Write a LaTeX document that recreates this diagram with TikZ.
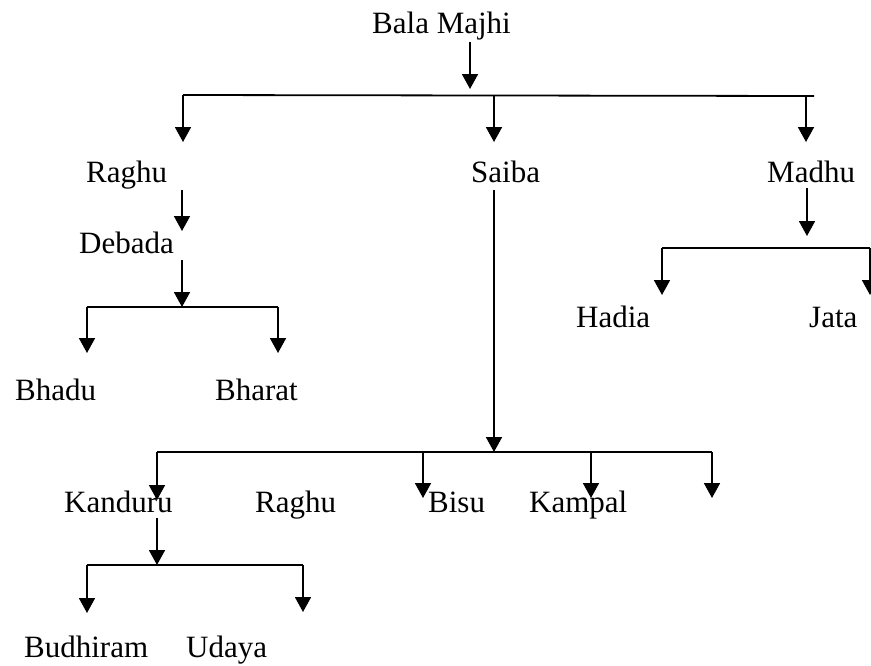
\documentclass[tikz,border=0pt]{standalone}
\usepackage{fontspec}
\setmainfont{Liberation Serif}
\usetikzlibrary{arrows.meta}
\tikzset{
  person/.style={inner sep=0pt, anchor=base west, font=\fontsize{31}{37}\selectfont},
  link/.style={line width=1.8pt, draw=black},
  arr/.style={link, -{Triangle[length=15pt,width=16pt]}}
}
\begin{document}
\begin{tikzpicture}[x=1pt,y=-1pt]
\useasboundingbox (0,0) rectangle (871,665);
% names
\node[person] (bala) at (372,33) {Bala Majhi};
\node[person] (raghu) at (86,182) {Raghu};
\node[person] (saiba) at (471,182) {Saiba};
\node[person] (madhu) at (767,182) {Madhu};
\node[person] (debada) at (79,253) {Debada};
\node[person] (bhadu) at (15,400) {Bhadu};
\node[person] (bharat) at (215,400) {Bharat};
\node[person] (hadia) at (576,327) {Hadia};
\node[person] (jata) at (809,327) {Jata};
\node[person] (kanduru) at (64,512) {Kanduru};
\node[person] (raghub) at (255,512) {Raghu};
\node[person] (bisu) at (428,512) {Bisu};
\node[person] (kampal) at (529,512) {Kampal};
\node[person] (budhiram) at (24,657) {Budhiram};
\node[person] (udaya) at (186,657) {Udaya};
% coordinates
\coordinate (b0) at (470,42);  \coordinate (b1) at (470,89);
\coordinate (tL) at (183,95);  \coordinate (tR) at (814,96);
\coordinate (tM) at (494,95);  \coordinate (tr) at (806,96);
\coordinate (aL) at (183,142); \coordinate (aM) at (494,142); \coordinate (aR) at (806,142);
\coordinate (r0) at (182,190); \coordinate (r1) at (182,231);
\coordinate (d0) at (182,260); \coordinate (d1) at (182,307);
\coordinate (dL) at (87,307);  \coordinate (dR) at (278,307);
\coordinate (dLa) at (87,353); \coordinate (dRa) at (278,353);
\coordinate (m0) at (807,188); \coordinate (m1) at (807,236);
\coordinate (mL) at (662,248); \coordinate (mR) at (870,248);
\coordinate (mLa) at (662,295); \coordinate (mRa) at (870,295);
\coordinate (s0) at (494,190); \coordinate (s1) at (494,452);
\coordinate (sL) at (157,452); \coordinate (sR) at (712,452);
\coordinate (s2) at (423,452); \coordinate (s3) at (591,452);
\coordinate (sLa) at (157,500); \coordinate (s2a) at (423,498);
\coordinate (s3a) at (591,498); \coordinate (sRa) at (712,498);
\coordinate (k0) at (157,518); \coordinate (k1) at (157,565);
\coordinate (kL) at (87,565);  \coordinate (kR) at (303,565);
\coordinate (kLa) at (87,613); \coordinate (kRa) at (303,612);
% connectors
\draw[arr] (b0) -- (b1);
\draw[link] (tL) -- (tR);
\draw[arr] (tL) -- (aL);
\draw[arr] (tM) -- (aM);
\draw[arr] (tr) -- (aR);
\draw[arr] (r0) -- (r1);
\draw[arr] (d0) -- (d1);
\draw[link] (dL) -- (dR);
\draw[arr] (dL) -- (dLa);
\draw[arr] (dR) -- (dRa);
\draw[arr] (m0) -- (m1);
\draw[link] (mL) -- (mR);
\draw[arr] (mL) -- (mLa);
\draw[arr] (mR) -- (mRa);
\draw[arr] (s0) -- (s1);
\draw[link] (sL) -- (sR);
\draw[arr] (sL) -- (sLa);
\draw[arr] (s2) -- (s2a);
\draw[arr] (s3) -- (s3a);
\draw[arr] (sR) -- (sRa);
\draw[arr] (k0) -- (k1);
\draw[link] (kL) -- (kR);
\draw[arr] (kL) -- (kLa);
\draw[arr] (kR) -- (kRa);
\end{tikzpicture}
\end{document}
